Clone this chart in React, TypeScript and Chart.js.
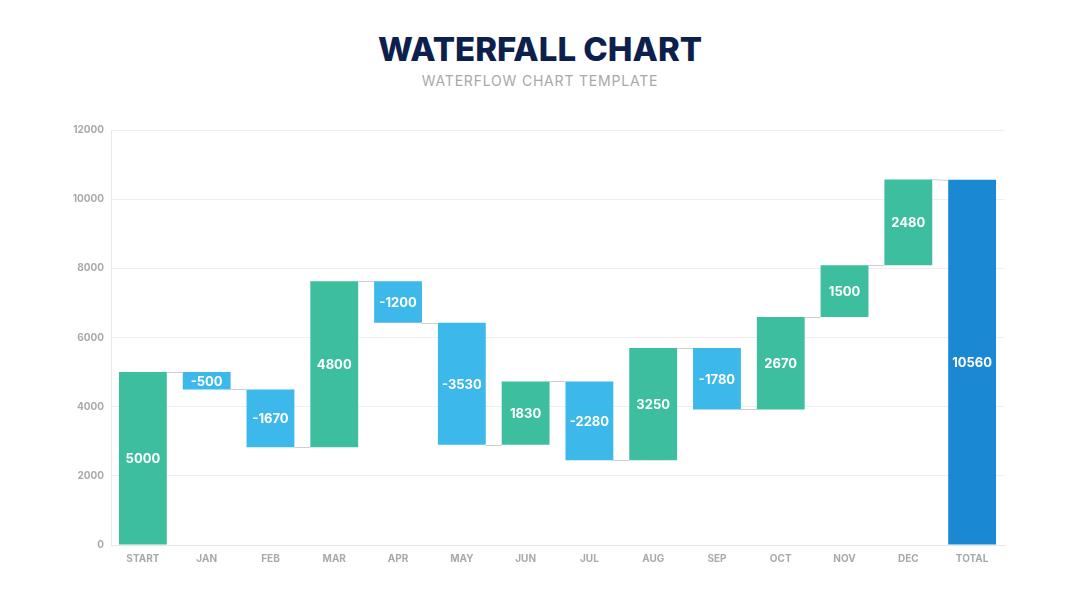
import React, { useEffect, useRef } from "react";
import { Chart, registerables } from "chart.js";

Chart.register(...registerables);

const categories = ["START", "JAN", "FEB", "MAR", "APR", "MAY", "JUN", "JUL", "AUG", "SEP", "OCT", "NOV", "DEC", "TOTAL"];
const changes = [5000, -500, -1670, 4800, -1200, -3530, 1830, -2280, 3250, -1780, 2670, 1500, 2480];
const totalValue = 10560;
const yTicks = [0, 2000, 4000, 6000, 8000, 10000, 12000];

const GREEN = "#3dbf9f";
const LIGHT_BLUE = "#3db8ea";
const DARK_BLUE = "#1b88d4";

// floating ranges [from, to] for each bar
const ranges: [number, number][] = [];
const labels: number[] = [];
let running = 0;
changes.forEach((c) => {
  ranges.push([running, running + c]);
  labels.push(c);
  running += c;
});
ranges.push([0, totalValue]);
labels.push(totalValue);

const colors = labels.map((v, i) => (i === labels.length - 1 ? DARK_BLUE : v >= 0 ? GREEN : LIGHT_BLUE));

const connectorPlugin = {
  id: "connectors",
  afterDatasetsDraw(chart: any) {
    const meta = chart.getDatasetMeta(0);
    const y = chart.scales.y;
    const ctx = chart.ctx;
    ctx.save();
    ctx.strokeStyle = "#cfcfcf";
    ctx.lineWidth = 1;
    for (let i = 0; i < meta.data.length - 1; i++) {
      const a = meta.data[i];
      const b = meta.data[i + 1];
      const endA = ranges[i][1];
      const startB = i + 1 === ranges.length - 1 ? ranges[i + 1][1] : ranges[i + 1][0];
      ctx.beginPath();
      ctx.moveTo(a.x + a.width / 2, Math.round(y.getPixelForValue(endA)) + 0.5);
      ctx.lineTo(b.x - b.width / 2, Math.round(y.getPixelForValue(startB)) + 0.5);
      ctx.stroke();
    }
    ctx.restore();
  },
};

const valueLabelPlugin = {
  id: "valueLabels",
  afterDatasetsDraw(chart: any) {
    const meta = chart.getDatasetMeta(0);
    const ctx = chart.ctx;
    ctx.save();
    ctx.fillStyle = "#ffffff";
    ctx.font = "700 13px Inter, 'Open Sans', sans-serif";
    ctx.textAlign = "center";
    ctx.textBaseline = "middle";
    meta.data.forEach((bar: any, i: number) => {
      const yc = (bar.y + bar.base) / 2;
      ctx.fillText(String(labels[i]), bar.x, yc + 1);
    });
    ctx.restore();
  },
};

export default function App() {
  const canvasRef = useRef<HTMLCanvasElement | null>(null);

  useEffect(() => {
    document.body.style.margin = "0";
    const chart = new Chart(canvasRef.current as HTMLCanvasElement, {
      type: "bar",
      data: {
        labels: categories,
        datasets: [
          {
            data: ranges as any,
            backgroundColor: colors,
            borderWidth: 0,
            borderSkipped: false,
            barPercentage: 0.75,
            categoryPercentage: 1,
          },
        ],
      },
      options: {
        animation: false,
        responsive: false,
        maintainAspectRatio: false,
        layout: { padding: { left: 51, right: 76, top: 130, bottom: 38 } },
        plugins: {
          legend: { display: false },
          tooltip: { enabled: false },
        },
        scales: {
          x: {
            grid: { display: false, drawTicks: false },
            border: { color: "#e8e8e8" },
            ticks: {
              color: "#a9a9a9",
              padding: 8,
              font: { family: "Inter, 'Open Sans', sans-serif", size: 10, weight: 700 },
            },
            afterFit(scale: any) {
              scale.height = 25;
            },
          },
          y: {
            min: 0,
            max: 12000,
            afterBuildTicks(scale: any) {
              scale.ticks = yTicks.map((v) => ({ value: v }));
            },
            grid: { color: "#efefef", drawTicks: false },
            border: { color: "#e8e8e8" },
            ticks: {
              color: "#a9a9a9",
              padding: 7,
              font: { family: "Inter, 'Open Sans', sans-serif", size: 10, weight: 700 },
              callback: (v: any) => String(v),
            },
            afterFit(scale: any) {
              scale.width = 60;
            },
          },
        },
      },
      plugins: [connectorPlugin, valueLabelPlugin],
    });
    return () => chart.destroy();
  }, []);

  return (
    <div style={{ position: "relative", width: 1080, height: 608, background: "#ffffff", overflow: "hidden" }}>
      <div
        style={{
          position: "absolute",
          top: 28,
          left: 0,
          width: 1080,
          textAlign: "center",
          fontFamily: "Inter, 'Open Sans', sans-serif",
          fontWeight: 800,
          fontSize: 33,
          lineHeight: "42px",
          color: "#0d1f4d",
        }}
      >
        WATERFALL CHART
      </div>
      <div
        style={{
          position: "absolute",
          top: 72,
          left: 0,
          width: 1080,
          textAlign: "center",
          fontFamily: "Inter, 'Open Sans', sans-serif",
          fontWeight: 400,
          fontSize: 14,
          lineHeight: "18px",
          letterSpacing: 0.8,
          color: "#a8a8a8",
        }}
      >
        WATERFLOW CHART TEMPLATE
      </div>
      <canvas ref={canvasRef} width={1080} height={608} style={{ position: "absolute", top: 0, left: 0 }} />
    </div>
  );
}
